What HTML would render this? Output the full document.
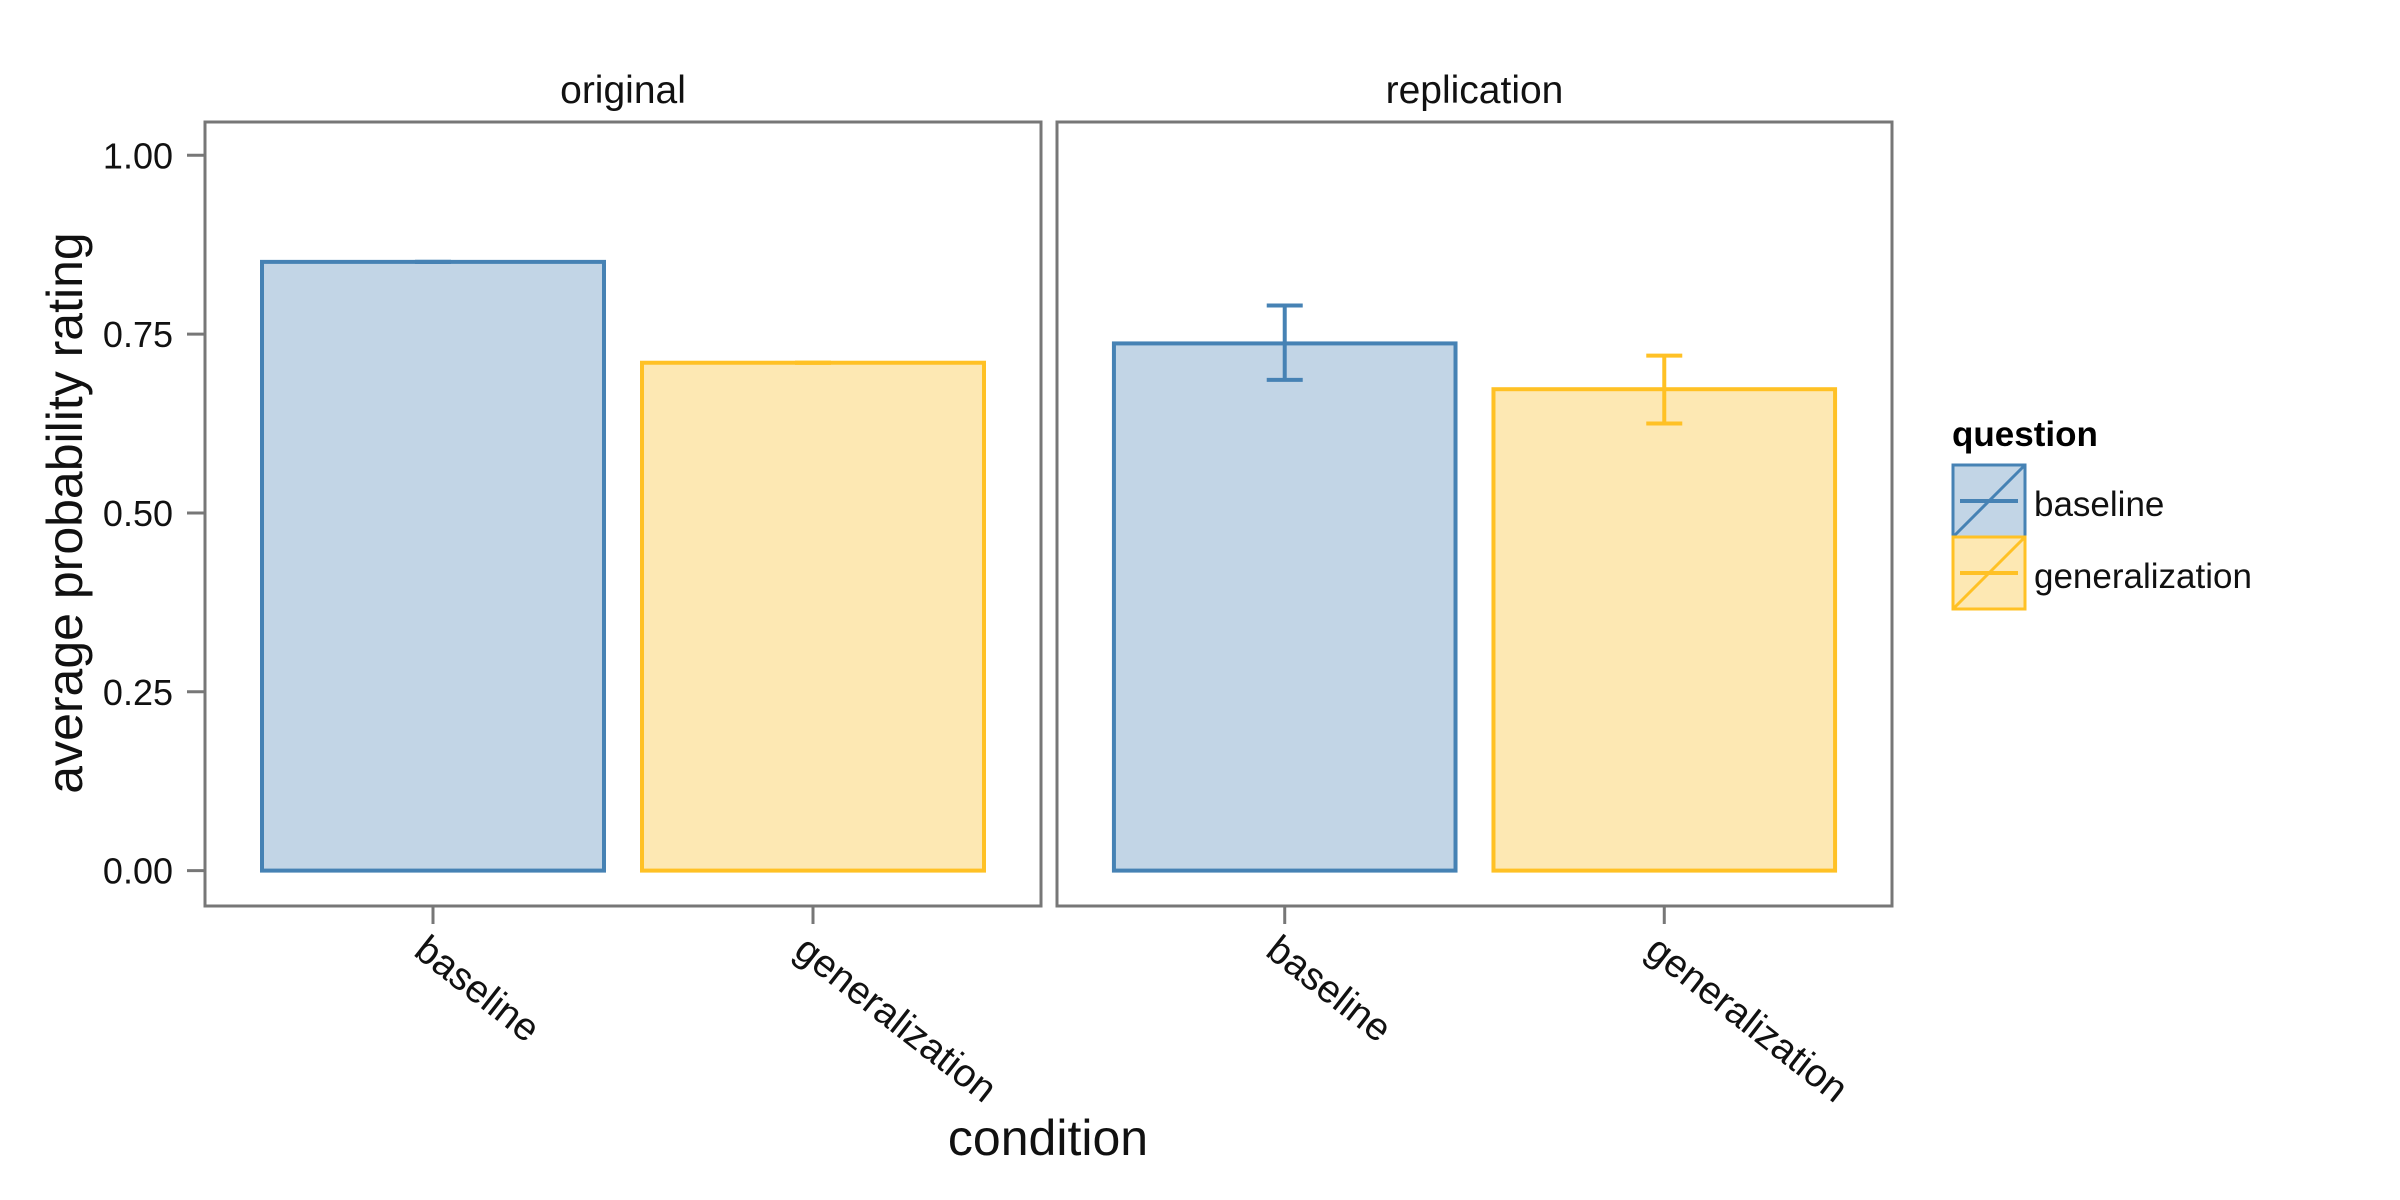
<!DOCTYPE html>
<html><head><meta charset="utf-8"><style>
html,body{margin:0;padding:0;background:#fff;}
svg{display:block;font-family:"Liberation Sans",sans-serif;}
</style></head><body>
<svg id="chart" width="2400" height="1200" viewBox="0 0 2400 1200">
</svg>
<script>
const panels = ["original", "replication"];
const categories = ["baseline", "generalization"];
const means = [[0.851, 0.710], [0.737, 0.673]];
const errLow = [[0.851, 0.710], [0.686, 0.625]];
const errHigh = [[0.851, 0.710], [0.790, 0.720]];
const yTicks = [0, 0.25, 0.5, 0.75, 1.0];
const yTickLabels = ["0.00", "0.25", "0.50", "0.75", "1.00"];

const NS = "http://www.w3.org/2000/svg";
const svg = document.getElementById("chart");
const stroke = ["#4682b4", "#ffc125"];
const fill = ["#c2d5e6", "#fde8b3"];
const panelBox = [{x0:205, x1:1041}, {x0:1057, x1:1892}];
const pTop = 122, pBot = 906;
const y0px = 870.6, y1px = 155.3;
function yScale(v){ return y0px + (y1px - y0px) * v; }
function xBand(p, i){ const b = panelBox[p]; const unit = (b.x1 - b.x0) / 2.2; return {c: b.x0 + unit*(0.6 + i), half: unit*0.45}; }
function mk(tag, attrs, parent){ const e = document.createElementNS(NS, tag); for (const k in attrs) e.setAttribute(k, attrs[k]); (parent||svg).appendChild(e); return e; }

panels.forEach((pn, p) => {
  const b = panelBox[p];
  const g = mk("g", {});
  
  
  const r = mk("rect", {x:b.x0, y:pTop, width:b.x1-b.x0, height:pBot-pTop, fill:"#fff", stroke:"#777", "stroke-width":3}, g);
  
  
  const st = mk("text", {x:(b.x0+b.x1)/2, y:103, "text-anchor":"middle", "font-size":39, fill:"#111"}, g);
  st.textContent = pn;
  
  
  categories.forEach((c, i) => {
    const band = xBand(p, i);
    const top = yScale(means[p][i]);
    const bar = mk("rect", {x:band.c-band.half, y:top, width:band.half*2, height:y0px-top, fill:fill[i], stroke:stroke[i], "stroke-width":4}, g);
    
    
    const yl = yScale(errLow[p][i]), yh = yScale(errHigh[p][i]);
    const eg = mk("g", {stroke:stroke[i], "stroke-width":4, fill:"none"}, g);
    
    
    mk("line", {x1:band.c, x2:band.c, y1:yl, y2:yh}, eg);
    mk("line", {x1:band.c-18, x2:band.c+18, y1:yl, y2:yl}, eg);
    mk("line", {x1:band.c-18, x2:band.c+18, y1:yh, y2:yh}, eg);
    const tk = mk("line", {x1:band.c, x2:band.c, y1:pBot, y2:924, stroke:"#777", "stroke-width":3}, g);
    
    
    const tl = mk("text", {x:0, y:0, "font-size":39, fill:"#111", "dominant-baseline":"hanging", transform:"translate(" + (band.c-4) + ",933) rotate(38)"}, g);
    tl.textContent = c;
    
    
  });
});

yTicks.forEach((v, k) => {
  const y = yScale(v);
  const t = mk("line", {x1:187, x2:205, y1:y, y2:y, stroke:"#777", "stroke-width":3});
  
  
  const l = mk("text", {x:173, y:y+13, "text-anchor":"end", "font-size":36, fill:"#111"});
  l.textContent = yTickLabels[k];
  
  
});

const yt = mk("text", {x:0, y:0, "text-anchor":"middle", "font-size":50, fill:"#111", transform:"translate(82,513) rotate(-90)"});
yt.textContent = "average probability rating";


const xt = mk("text", {x:1048, y:1155, "text-anchor":"middle", "font-size":50, fill:"#111"});
xt.textContent = "condition";



const lg = mk("g", {});


const lt = mk("text", {x:1952, y:446, "font-size":35, "font-weight":"bold", fill:"#000"}, lg);
lt.textContent = "question";


categories.forEach((c, i) => {
  const yT = 465 + i*72;
  const eg = mk("g", {}, lg);
  
  
  mk("rect", {x:1953, y:yT, width:72, height:72, fill:fill[i], stroke:stroke[i], "stroke-width":3}, eg);
  mk("line", {x1:1953, y1:yT+72, x2:2025, y2:yT, stroke:stroke[i], "stroke-width":3}, eg);
  mk("line", {x1:1960, y1:yT+36, x2:2018, y2:yT+36, stroke:stroke[i], "stroke-width":4}, eg);
  const tx = mk("text", {x:2034, y:yT+51, "font-size":35, fill:"#111"}, eg);
  tx.textContent = c;
});
</script>
</body></html>
